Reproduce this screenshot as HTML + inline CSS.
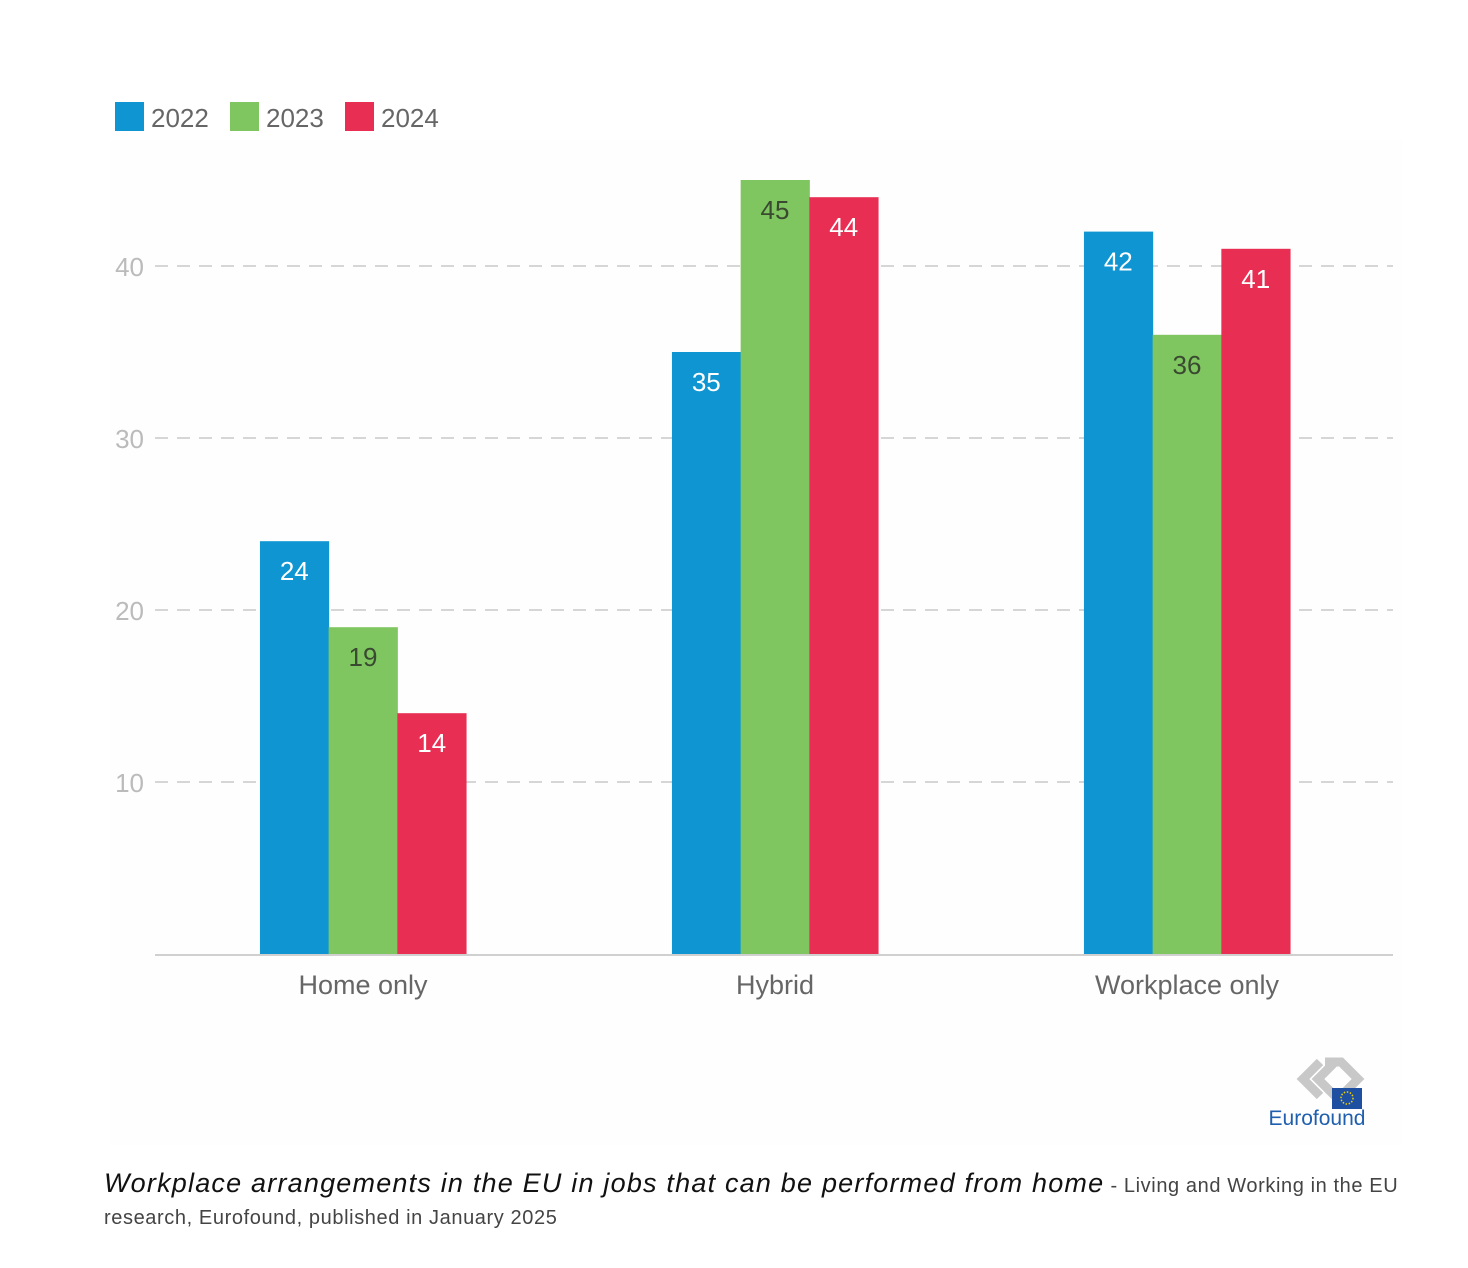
<!DOCTYPE html>
<html><head><meta charset="utf-8"><style>
html,body{margin:0;padding:0;background:#fff;}
body{width:1468px;height:1268px;position:relative;overflow:hidden;font-family:"Liberation Sans",sans-serif;}
#cap{position:absolute;left:104px;top:1167px;width:1320px;line-height:32px;color:#444;font-size:20px;letter-spacing:0.6px;}
#cap i{font-size:27px;color:#111;letter-spacing:1.2px;}
</style></head><body>
<svg id="chart" width="1468" height="1160" style="position:absolute;left:0;top:0" xmlns="http://www.w3.org/2000/svg">
<rect x="110" y="140" width="1293" height="1005" fill="#fefefe"/>
<g id="grid"></g><g id="bars"></g><g id="labels"></g>
<g font-size="26" fill="#666">
<rect x="115" y="102" width="29" height="29" fill="#0f96d2"/>
<text x="151" y="127">2022</text>
<rect x="230" y="102" width="29" height="29" fill="#7fc661"/>
<text x="266" y="127">2023</text>
<rect x="345" y="102" width="29" height="29" fill="#e82e52"/>
<text x="381" y="127">2024</text>
</g>
<g>
<path d="M1335 1062 l-17 17 l17 17 M1320 1062 l-17 17 l17 17" stroke="#c8c8c8" stroke-width="9" fill="none"/>
<path d="M1325 1062 l16 0 l17 17 l-17 17" stroke="#c8c8c8" stroke-width="9" fill="none"/>
<rect x="1332" y="1088" width="30" height="21" fill="#1f4fa0"/>
<circle cx="1347" cy="1098" r="6" fill="none" stroke="#f2d200" stroke-width="1.5" stroke-dasharray="1.5 1.6"/>
<text x="1317" y="1125" text-anchor="middle" font-size="21" fill="#1f5fae">Eurofound</text>
</g>
</svg>
<div id="cap"><i>Workplace arrangements in the EU in jobs that can be performed from home</i> - Living and Working in the EU research, Eurofound, published in January 2025</div>
<script>
const categories=["Home only","Hybrid","Workplace only"];
const seriesNames=["2022","2023","2024"];
const v2022=[24,35,42];
const v2023=[19,45,36];
const v2024=[14,44,41];
const yTicks=[10,20,30,40];
const colors=["#0f96d2","#7fc661","#e82e52"];
const labelColors=["#fff","#3a4a30","#fff"];
const NS="http://www.w3.org/2000/svg";
const y0=954,pxPer=17.2,xL=155,xR=1393;
function y(v){return y0-v*pxPer;}
function gx(i){return 363+i*412;}
const bw=68.7;
function mk(tag,attrs,parent){const e=document.createElementNS(NS,tag);for(const k in attrs)e.setAttribute(k,attrs[k]);parent.appendChild(e);return e;}
const grid=document.getElementById('grid'),bars=document.getElementById('bars'),labels=document.getElementById('labels');
yTicks.forEach(t=>{
 const l=mk('line',{x1:xL,x2:xR,y1:y(t),y2:y(t),stroke:'#d6d6d6','stroke-width':2,'stroke-dasharray':'13 9'},grid);
 
 
 const tx=mk('text',{x:144,y:y(t)+10,'text-anchor':'end','font-size':26,fill:'#bbb'},grid);
 tx.textContent=t;
 
 
});
const ax=mk('line',{x1:xL,x2:xR,y1:y0+1,y2:y0+1,stroke:'#d0d0d0','stroke-width':2},grid);


const series=[v2022,v2023,v2024];
categories.forEach((c,i)=>{
 series.forEach((s,j)=>{
  const x=gx(i)-1.5*bw+j*bw;
  const r=mk('rect',{x:x,y:y(s[i]),width:bw+0.5,height:s[i]*pxPer,fill:colors[j]},bars);
  
  
  const t=mk('text',{x:x+bw/2,y:y(s[i])+39,'text-anchor':'middle','font-size':26,fill:labelColors[j]},labels);
  t.textContent=s[i];
  
  
 });
 const t=mk('text',{x:gx(i),y:994,'text-anchor':'middle','font-size':27,fill:'#666'},labels);
 t.textContent=c;
 
 
});
</script>
</body></html>
